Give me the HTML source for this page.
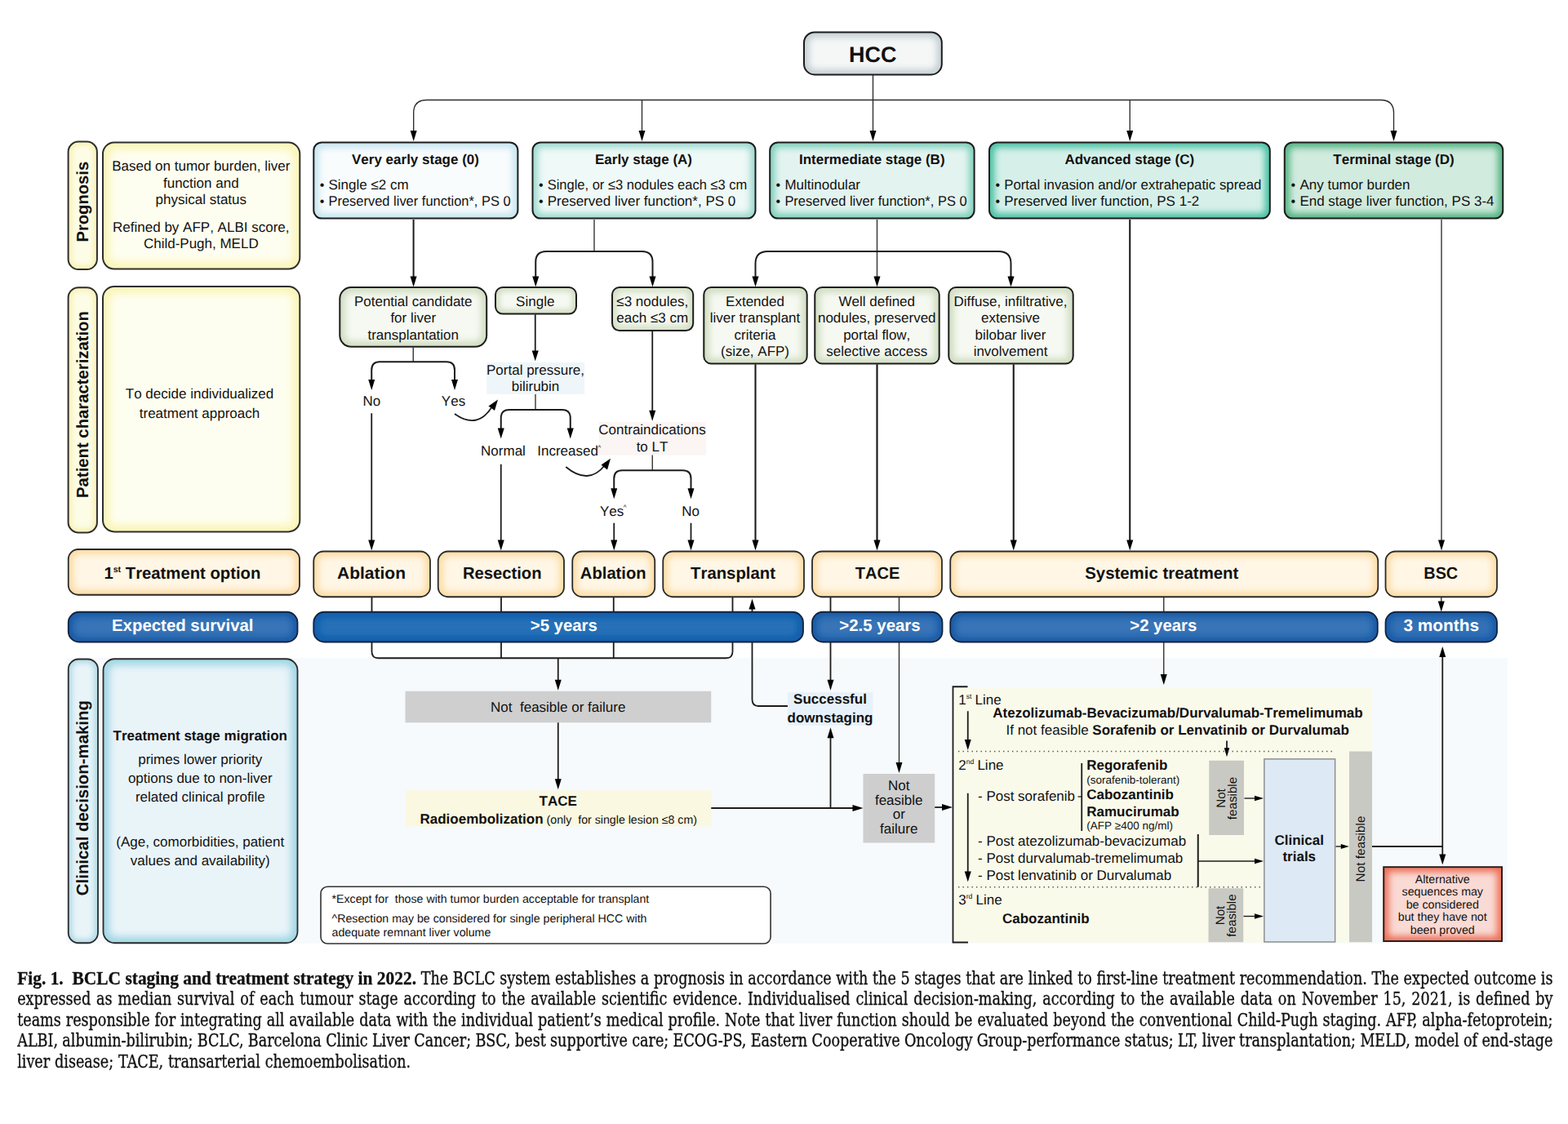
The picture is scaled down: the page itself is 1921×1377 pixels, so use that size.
<!DOCTYPE html>
<html lang="en"><head><meta charset="utf-8"><title>BCLC staging and treatment strategy in 2022</title>
<style>
html,body{margin:0;padding:0;background:#fff}
body{width:1921px;height:1377px;position:relative;overflow:hidden;font-family:"Liberation Sans",sans-serif}
svg{position:absolute;left:0;top:0}
svg text{font-family:"Liberation Sans",sans-serif;font-kerning:none;text-rendering:geometricPrecision}
.cl{position:absolute;left:21.2px;height:25px;line-height:25px;font-family:"DejaVu Serif Condensed","DejaVu Serif","Liberation Serif",serif;font-size:19.55px;color:#111;-webkit-text-stroke:0.3px #111;white-space:nowrap;transform-origin:0 20px;transform:scaleY(1.1)}
.cl b{font-family:"Liberation Serif","DejaVu Serif Condensed",serif;font-size:21.4px;font-weight:700}
</style></head><body>
<svg width="1921" height="1377" viewBox="0 0 1921 1377">
<defs><filter id="bl3_0" x="-20%" y="-20%" width="140%" height="140%" filterUnits="objectBoundingBox"><feGaussianBlur stdDeviation="3"/></filter><filter id="bl5_5" x="-20%" y="-20%" width="140%" height="140%" filterUnits="objectBoundingBox"><feGaussianBlur stdDeviation="5.5"/></filter><filter id="bl4_2" x="-20%" y="-20%" width="140%" height="140%" filterUnits="objectBoundingBox"><feGaussianBlur stdDeviation="4.2"/></filter><filter id="bl4_5" x="-20%" y="-20%" width="140%" height="140%" filterUnits="objectBoundingBox"><feGaussianBlur stdDeviation="4.5"/></filter><filter id="bl3_5" x="-20%" y="-20%" width="140%" height="140%" filterUnits="objectBoundingBox"><feGaussianBlur stdDeviation="3.5"/></filter><filter id="bl4_0" x="-20%" y="-20%" width="140%" height="140%" filterUnits="objectBoundingBox"><feGaussianBlur stdDeviation="4"/></filter><filter id="bl5_0" x="-20%" y="-20%" width="140%" height="140%" filterUnits="objectBoundingBox"><feGaussianBlur stdDeviation="5"/></filter><clipPath id="c1"><rect x="83.60" y="173.60" width="35.30" height="156.40" rx="12.50"/></clipPath><clipPath id="c2"><rect x="126.00" y="174.50" width="241.30" height="155.10" rx="14.00"/></clipPath><clipPath id="c3"><rect x="83.60" y="352.20" width="35.30" height="300.20" rx="12.50"/></clipPath><clipPath id="c4"><rect x="126.00" y="351.00" width="241.30" height="300.40" rx="14.00"/></clipPath><clipPath id="c5"><rect x="384.30" y="174.40" width="250.10" height="93.20" rx="10.00"/></clipPath><clipPath id="c6"><rect x="652.50" y="174.40" width="273.00" height="93.20" rx="10.00"/></clipPath><clipPath id="c7"><rect x="943.20" y="174.40" width="250.40" height="93.20" rx="10.00"/></clipPath><clipPath id="c8"><rect x="1212.00" y="174.40" width="343.80" height="93.20" rx="10.00"/></clipPath><clipPath id="c9"><rect x="1573.75" y="174.40" width="267.50" height="93.20" rx="10.00"/></clipPath><clipPath id="c10"><rect x="985.00" y="39.50" width="168.80" height="51.90" rx="13.00"/></clipPath><clipPath id="c11"><rect x="416.30" y="352.00" width="179.90" height="72.80" rx="14.00"/></clipPath><clipPath id="c12"><rect x="607.00" y="352.00" width="99.00" height="32.60" rx="9.00"/></clipPath><clipPath id="c13"><rect x="750.00" y="352.00" width="99.20" height="53.10" rx="9.00"/></clipPath><clipPath id="c14"><rect x="862.30" y="352.00" width="126.40" height="93.50" rx="9.00"/></clipPath><clipPath id="c15"><rect x="998.30" y="352.00" width="152.40" height="93.50" rx="9.00"/></clipPath><clipPath id="c16"><rect x="1162.30" y="352.00" width="152.40" height="93.50" rx="9.00"/></clipPath><clipPath id="c17"><rect x="83.75" y="673.00" width="283.25" height="55.75" rx="12.10"/></clipPath><clipPath id="c18"><rect x="384.25" y="675.50" width="142.75" height="55.75" rx="12.10"/></clipPath><clipPath id="c19"><rect x="536.75" y="675.50" width="154.25" height="55.75" rx="12.10"/></clipPath><clipPath id="c20"><rect x="701.25" y="675.50" width="101.00" height="55.75" rx="12.10"/></clipPath><clipPath id="c21"><rect x="812.25" y="675.50" width="172.75" height="55.75" rx="12.10"/></clipPath><clipPath id="c22"><rect x="995.00" y="675.50" width="159.00" height="55.75" rx="12.10"/></clipPath><clipPath id="c23"><rect x="1164.25" y="675.50" width="524.00" height="55.75" rx="12.10"/></clipPath><clipPath id="c24"><rect x="1697.50" y="675.50" width="136.50" height="55.75" rx="12.10"/></clipPath><clipPath id="c25"><rect x="83.75" y="749.75" width="280.75" height="36.75" rx="13.10"/></clipPath><clipPath id="c26"><rect x="384.25" y="749.75" width="599.75" height="36.75" rx="13.10"/></clipPath><clipPath id="c27"><rect x="995.00" y="749.75" width="159.50" height="36.75" rx="13.10"/></clipPath><clipPath id="c28"><rect x="1164.25" y="749.75" width="523.50" height="36.75" rx="13.10"/></clipPath><clipPath id="c29"><rect x="1697.50" y="749.75" width="136.50" height="36.75" rx="13.10"/></clipPath><clipPath id="c30"><rect x="83.75" y="807.50" width="36.25" height="347.75" rx="12.60"/></clipPath><clipPath id="c31"><rect x="126.50" y="807.25" width="238.00" height="348.00" rx="14.10"/></clipPath><clipPath id="c32"><rect x="1695.20" y="1062.20" width="144.80" height="90.80" rx="0.00"/></clipPath></defs>
<g id="bg"><rect x="81.00" y="805.75" width="1765.50" height="350.00" fill="#f6fafc"/><rect x="1168.00" y="841.75" width="513.00" height="312.75" fill="#fafaeb"/><rect x="596.25" y="443.75" width="120.00" height="39.25" fill="#eff6fa"/><rect x="733.75" y="517.00" width="131.25" height="40.50" fill="#fbf5f3"/><rect x="965.00" y="848.00" width="104.50" height="40.75" fill="#e7f1fa"/><rect x="496.50" y="846.75" width="374.75" height="38.50" fill="#cfcfcf"/><rect x="497.00" y="968.25" width="374.25" height="44.25" fill="#faf8e1"/><rect x="1057.50" y="948.00" width="87.75" height="84.50" fill="#cecece"/><rect x="1481.25" y="931.75" width="42.75" height="91.25" fill="#c9c9c3"/><rect x="1480.50" y="1088.25" width="42.75" height="66.00" fill="#c9c9c3"/><rect x="1653.00" y="920.50" width="28.00" height="233.75" fill="#c9c9c3"/></g>
<g id="lines"><path d="M1069.50 92.00V162.00" fill="none" stroke="#2c2c2c" stroke-width="1.35" /><polygon points="1069.50,173.00 1065.50,160.00 1073.50,160.00" fill="#000"/><path d="M506.70 162.00V138.50Q506.70 122.50 522.70 122.50H1691.50Q1707.50 122.50 1707.50 138.50V162.00" fill="none" stroke="#2c2c2c" stroke-width="1.35" /><polygon points="506.70,173.00 502.70,160.00 510.70,160.00" fill="#000"/><polygon points="1707.50,173.00 1703.50,160.00 1711.50,160.00" fill="#000"/><path d="M786.50 122.50V162.00" fill="none" stroke="#2c2c2c" stroke-width="1.35" /><polygon points="786.50,173.00 782.50,160.00 790.50,160.00" fill="#000"/><path d="M1384.25 122.50V162.00" fill="none" stroke="#2c2c2c" stroke-width="1.35" /><polygon points="1384.25,173.00 1380.25,160.00 1388.25,160.00" fill="#000"/><path d="M506.60 269.00V340.50" fill="none" stroke="#1c1c1c" stroke-width="2.0" /><polygon points="506.60,351.50 502.60,338.50 510.60,338.50" fill="#000"/><path d="M728.00 269.00V308.00" fill="none" stroke="#2c2c2c" stroke-width="1.35" /><path d="M656.25 340.50V321.00Q656.25 308.00 669.25 308.00H786.50Q799.50 308.00 799.50 321.00V340.50" fill="none" stroke="#1c1c1c" stroke-width="2.0" /><polygon points="656.25,351.50 652.25,338.50 660.25,338.50" fill="#000"/><polygon points="799.50,351.50 795.50,338.50 803.50,338.50" fill="#000"/><path d="M1074.50 269.00V340.50" fill="none" stroke="#2c2c2c" stroke-width="1.35" /><polygon points="1074.50,351.50 1070.50,338.50 1078.50,338.50" fill="#000"/><path d="M925.50 340.50V323.00Q925.50 308.00 940.50 308.00H1223.50Q1238.50 308.00 1238.50 323.00V340.50" fill="none" stroke="#1c1c1c" stroke-width="2.0" /><polygon points="925.50,351.50 921.50,338.50 929.50,338.50" fill="#000"/><polygon points="1238.50,351.50 1234.50,338.50 1242.50,338.50" fill="#000"/><path d="M1384.25 269.00V663.50" fill="none" stroke="#1c1c1c" stroke-width="2.1" /><polygon points="1384.25,674.50 1380.25,661.50 1388.25,661.50" fill="#000"/><path d="M1766.00 269.00V663.50" fill="none" stroke="#2c2c2c" stroke-width="1.35" /><polygon points="1766.00,674.50 1762.00,661.50 1770.00,661.50" fill="#000"/><path d="M506.25 425.50V443.25" fill="none" stroke="#2c2c2c" stroke-width="1.35" /><path d="M455.25 467.00V453.25Q455.25 443.25 465.25 443.25H547.00Q557.00 443.25 557.00 453.25V467.00" fill="none" stroke="#1c1c1c" stroke-width="2.0" /><polygon points="455.25,478.00 451.25,465.00 459.25,465.00" fill="#000"/><polygon points="557.00,478.00 553.00,465.00 561.00,465.00" fill="#000"/><path d="M455.25 506.25V663.50" fill="none" stroke="#1c1c1c" stroke-width="1.8" /><polygon points="455.25,674.50 451.25,661.50 459.25,661.50" fill="#000"/><path d="M655.75 385.30V431.50" fill="none" stroke="#1c1c1c" stroke-width="1.8" /><polygon points="655.75,442.50 651.75,429.50 659.75,429.50" fill="#000"/><path d="M656.00 483.00V502.00" fill="none" stroke="#2c2c2c" stroke-width="1.35" /><path d="M613.75 526.50V512.00Q613.75 502.00 623.75 502.00H688.75Q698.75 502.00 698.75 512.00V526.50" fill="none" stroke="#1c1c1c" stroke-width="2.0" /><polygon points="613.75,537.50 609.75,524.50 617.75,524.50" fill="#000"/><polygon points="698.75,537.50 694.75,524.50 702.75,524.50" fill="#000"/><path d="M613.75 568.75V663.50" fill="none" stroke="#1c1c1c" stroke-width="1.8" /><polygon points="613.75,674.50 609.75,661.50 617.75,661.50" fill="#000"/><path d="M799.25 405.80V504.75" fill="none" stroke="#1c1c1c" stroke-width="1.8" /><polygon points="799.25,515.75 795.25,502.75 803.25,502.75" fill="#000"/><path d="M799.25 557.50V576.25" fill="none" stroke="#2c2c2c" stroke-width="1.35" /><path d="M752.25 600.25V586.25Q752.25 576.25 762.25 576.25H836.50Q846.50 576.25 846.50 586.25V600.25" fill="none" stroke="#1c1c1c" stroke-width="2.0" /><polygon points="752.25,611.25 748.25,598.25 756.25,598.25" fill="#000"/><polygon points="846.50,611.25 842.50,598.25 850.50,598.25" fill="#000"/><path d="M752.25 640.75V663.50" fill="none" stroke="#1c1c1c" stroke-width="1.8" /><polygon points="752.25,674.50 748.25,661.50 756.25,661.50" fill="#000"/><path d="M846.50 640.75V663.50" fill="none" stroke="#1c1c1c" stroke-width="1.8" /><polygon points="846.50,674.50 842.50,661.50 850.50,661.50" fill="#000"/><path d="M925.50 446.30V663.50" fill="none" stroke="#1c1c1c" stroke-width="2.1" /><polygon points="925.50,674.50 921.50,661.50 929.50,661.50" fill="#000"/><path d="M1074.50 446.30V663.50" fill="none" stroke="#1c1c1c" stroke-width="2.2" /><polygon points="1074.50,674.50 1070.50,661.50 1078.50,661.50" fill="#000"/><path d="M1241.75 446.30V663.50" fill="none" stroke="#1c1c1c" stroke-width="2.1" /><polygon points="1241.75,674.50 1237.75,661.50 1245.75,661.50" fill="#000"/><path d="M557 507Q585 527 603 498" fill="none" stroke="#1c1c1c" stroke-width="1.8" /><polygon points="610,489.5 598.5,497.5 606,503" fill="#000"/><path d="M693.25 572Q721 595 741 570" fill="none" stroke="#1c1c1c" stroke-width="1.8" /><polygon points="748,561.75 736.5,569.5 744,575.5" fill="#000"/><path d="M455.5 731.75V798.25Q455.5 806.25 463.5 806.25H889.5Q897.5 806.25 897.5 798.25V731.75" fill="none" stroke="#1c1c1c" stroke-width="1.8" /><path d="M614.00 731.75V806.25" fill="none" stroke="#1c1c1c" stroke-width="1.8" /><path d="M751.75 731.75V806.25" fill="none" stroke="#1c1c1c" stroke-width="1.8" /><path d="M683.75 806.25V834.80" fill="none" stroke="#1c1c1c" stroke-width="1.8" /><polygon points="683.75,845.80 679.75,832.80 687.75,832.80" fill="#000"/><path d="M683.75 885.25V956.30" fill="none" stroke="#1c1c1c" stroke-width="1.8" /><polygon points="683.75,967.30 679.75,954.30 687.75,954.30" fill="#000"/><path d="M871.25 990.00H1046.50" fill="none" stroke="#1c1c1c" stroke-width="1.8" /><polygon points="1057.50,990.00 1044.50,986.00 1044.50,994.00" fill="#000"/><path d="M1017.50 990.00V902.25" fill="none" stroke="#1c1c1c" stroke-width="1.8" /><polygon points="1017.50,891.25 1013.50,904.25 1021.50,904.25" fill="#000"/><path d="M965 865H929.5Q921.5 865 921.5 857V744" fill="none" stroke="#1c1c1c" stroke-width="1.8" /><polygon points="921.50,733.50 917.50,746.50 925.50,746.50" fill="#000"/><path d="M1017.50 731.75V834.80" fill="none" stroke="#1c1c1c" stroke-width="1.8" /><polygon points="1017.50,845.80 1013.50,832.80 1021.50,832.80" fill="#000"/><path d="M1101.50 731.75V936.00" fill="none" stroke="#2c2c2c" stroke-width="1.35" /><polygon points="1101.50,947.00 1097.50,934.00 1105.50,934.00" fill="#000"/><path d="M1145.25 989.00H1156.00" fill="none" stroke="#1c1c1c" stroke-width="1.8" /><polygon points="1167.00,989.00 1154.00,985.00 1154.00,993.00" fill="#000"/><path d="M1425.75 731.75V828.00" fill="none" stroke="#2c2c2c" stroke-width="1.35" /><polygon points="1425.75,839.00 1421.75,826.00 1429.75,826.00" fill="#000"/><path d="M1765.75 731.75V738.50" fill="none" stroke="#2c2c2c" stroke-width="1.35" /><polygon points="1765.75,749.50 1761.75,736.50 1769.75,736.50" fill="#000"/><path d="M1767.25 802.00V1049.00" fill="none" stroke="#1c1c1c" stroke-width="1.8" /><polygon points="1767.25,792.00 1763.25,805.00 1771.25,805.00" fill="#000"/><polygon points="1767.25,1059.50 1763.25,1046.50 1771.25,1046.50" fill="#000"/><path d="M1681.00 1037.00H1767.25" fill="none" stroke="#1c1c1c" stroke-width="1.8" /><path d="M1636.25 1037.00H1644.75" fill="none" stroke="#1c1c1c" stroke-width="1.4" /><polygon points="1652.75,1037.00 1642.75,1034.00 1642.75,1040.00" fill="#000"/><path d="M1524.50 978.00H1539.00" fill="none" stroke="#1c1c1c" stroke-width="1.4" /><polygon points="1548.00,978.00 1537.00,974.75 1537.00,981.25" fill="#000"/><path d="M1523.50 1122.50H1539.00" fill="none" stroke="#1c1c1c" stroke-width="1.4" /><polygon points="1548.00,1122.50 1537.00,1119.25 1537.00,1125.75" fill="#000"/><path d="M1467.75 1022.00V1086.75" fill="none" stroke="#1c1c1c" stroke-width="2.0" /><path d="M1467.75 1055.00H1539.00" fill="none" stroke="#1c1c1c" stroke-width="1.4" /><polygon points="1548.00,1055.00 1537.00,1051.75 1537.00,1058.25" fill="#000"/><path d="M1325.25 935.00V1018.00" fill="none" stroke="#1c1c1c" stroke-width="1.8" /><path d="M1320.50 976.00H1325.25" fill="none" stroke="#1c1c1c" stroke-width="1.3" /><path d="M1185.5 841.25H1167.5V1154.5H1186" fill="none" stroke="#1c1c1c" stroke-width="1.8" /><path d="M1185.75 871.25V908.00" fill="none" stroke="#1c1c1c" stroke-width="1.8" /><polygon points="1185.75,919.00 1181.75,906.00 1189.75,906.00" fill="#000"/><path d="M1185.75 971.75V1069.50" fill="none" stroke="#1c1c1c" stroke-width="1.8" /><polygon points="1185.75,1080.50 1181.75,1067.50 1189.75,1067.50" fill="#000"/><path d="M1503.00 907.50V918.30" fill="none" stroke="#1c1c1c" stroke-width="1.8" /><polygon points="1503.00,927.30 1499.75,916.30 1506.25,916.30" fill="#000"/><path d="M1174 920.5H1632.5" fill="none" stroke="#555" stroke-width="1.4" stroke-dasharray="1.4 4.1"/><path d="M1174 1086.75H1548" fill="none" stroke="#555" stroke-width="1.4" stroke-dasharray="1.4 4.1"/></g>
<g id="boxes"><g clip-path="url(#c1)"><rect x="83.60" y="173.60" width="35.30" height="156.40" rx="12.50" fill="#fdfce6"/><rect x="83.60" y="173.60" width="35.30" height="156.40" rx="12.50" fill="none" stroke="#f7f1b4" stroke-width="9.00" filter="url(#bl3_0)"/></g><rect x="83.60" y="173.60" width="35.30" height="156.40" rx="12.50" fill="none" stroke="#2e2e2e" stroke-width="2"/><g clip-path="url(#c2)"><rect x="126.00" y="174.50" width="241.30" height="155.10" rx="14.00" fill="#fefef0"/><rect x="126.00" y="174.50" width="241.30" height="155.10" rx="14.00" fill="none" stroke="#faf4b4" stroke-width="16.00" filter="url(#bl5_5)"/></g><rect x="126.00" y="174.50" width="241.30" height="155.10" rx="14.00" fill="none" stroke="#2e2e2e" stroke-width="2"/><g clip-path="url(#c3)"><rect x="83.60" y="352.20" width="35.30" height="300.20" rx="12.50" fill="#fdfce6"/><rect x="83.60" y="352.20" width="35.30" height="300.20" rx="12.50" fill="none" stroke="#f7f1b4" stroke-width="9.00" filter="url(#bl3_0)"/></g><rect x="83.60" y="352.20" width="35.30" height="300.20" rx="12.50" fill="none" stroke="#2e2e2e" stroke-width="2"/><g clip-path="url(#c4)"><rect x="126.00" y="351.00" width="241.30" height="300.40" rx="14.00" fill="#fefef0"/><rect x="126.00" y="351.00" width="241.30" height="300.40" rx="14.00" fill="none" stroke="#faf4b4" stroke-width="16.00" filter="url(#bl5_5)"/></g><rect x="126.00" y="351.00" width="241.30" height="300.40" rx="14.00" fill="none" stroke="#2e2e2e" stroke-width="2"/><g clip-path="url(#c5)"><rect x="384.30" y="174.40" width="250.10" height="93.20" rx="10.00" fill="#f8fcfd"/><rect x="384.30" y="174.40" width="250.10" height="93.20" rx="10.00" fill="none" stroke="#c3e3ee" stroke-width="12.00" filter="url(#bl4_2)"/></g><rect x="384.30" y="174.40" width="250.10" height="93.20" rx="10.00" fill="none" stroke="#1c1c1c" stroke-width="2"/><g clip-path="url(#c6)"><rect x="652.50" y="174.40" width="273.00" height="93.20" rx="10.00" fill="#eff9f7"/><rect x="652.50" y="174.40" width="273.00" height="93.20" rx="10.00" fill="none" stroke="#98d7cd" stroke-width="12.00" filter="url(#bl4_2)"/></g><rect x="652.50" y="174.40" width="273.00" height="93.20" rx="10.00" fill="none" stroke="#1c1c1c" stroke-width="2"/><g clip-path="url(#c7)"><rect x="943.20" y="174.40" width="250.40" height="93.20" rx="10.00" fill="#e3f4f0"/><rect x="943.20" y="174.40" width="250.40" height="93.20" rx="10.00" fill="none" stroke="#78cdb8" stroke-width="12.00" filter="url(#bl4_2)"/></g><rect x="943.20" y="174.40" width="250.40" height="93.20" rx="10.00" fill="none" stroke="#1c1c1c" stroke-width="2"/><g clip-path="url(#c8)"><rect x="1212.00" y="174.40" width="343.80" height="93.20" rx="10.00" fill="#d6f0e9"/><rect x="1212.00" y="174.40" width="343.80" height="93.20" rx="10.00" fill="none" stroke="#3fbd9f" stroke-width="12.00" filter="url(#bl4_2)"/></g><rect x="1212.00" y="174.40" width="343.80" height="93.20" rx="10.00" fill="none" stroke="#1c1c1c" stroke-width="2"/><g clip-path="url(#c9)"><rect x="1573.75" y="174.40" width="267.50" height="93.20" rx="10.00" fill="#d1ebde"/><rect x="1573.75" y="174.40" width="267.50" height="93.20" rx="10.00" fill="none" stroke="#4cb07e" stroke-width="12.00" filter="url(#bl4_2)"/></g><rect x="1573.75" y="174.40" width="267.50" height="93.20" rx="10.00" fill="none" stroke="#1c1c1c" stroke-width="2"/><g clip-path="url(#c10)"><rect x="985.00" y="39.50" width="168.80" height="51.90" rx="13.00" fill="#f5f7f7"/><rect x="985.00" y="39.50" width="168.80" height="51.90" rx="13.00" fill="none" stroke="#c2cdd2" stroke-width="12.00" filter="url(#bl4_2)"/></g><rect x="985.00" y="39.50" width="168.80" height="51.90" rx="13.00" fill="none" stroke="#1c1c1c" stroke-width="2"/><g clip-path="url(#c11)"><rect x="416.30" y="352.00" width="179.90" height="72.80" rx="14.00" fill="#f6f9f2"/><rect x="416.30" y="352.00" width="179.90" height="72.80" rx="14.00" fill="none" stroke="#cfdcc0" stroke-width="13.00" filter="url(#bl4_5)"/></g><rect x="416.30" y="352.00" width="179.90" height="72.80" rx="14.00" fill="none" stroke="#1c1c1c" stroke-width="2"/><g clip-path="url(#c12)"><rect x="607.00" y="352.00" width="99.00" height="32.60" rx="9.00" fill="#f6f9f2"/><rect x="607.00" y="352.00" width="99.00" height="32.60" rx="9.00" fill="none" stroke="#cfdcc0" stroke-width="10.00" filter="url(#bl3_5)"/></g><rect x="607.00" y="352.00" width="99.00" height="32.60" rx="9.00" fill="none" stroke="#1c1c1c" stroke-width="2"/><g clip-path="url(#c13)"><rect x="750.00" y="352.00" width="99.20" height="53.10" rx="9.00" fill="#f6f9f2"/><rect x="750.00" y="352.00" width="99.20" height="53.10" rx="9.00" fill="none" stroke="#cfdcc0" stroke-width="11.00" filter="url(#bl4_0)"/></g><rect x="750.00" y="352.00" width="99.20" height="53.10" rx="9.00" fill="none" stroke="#1c1c1c" stroke-width="2"/><g clip-path="url(#c14)"><rect x="862.30" y="352.00" width="126.40" height="93.50" rx="9.00" fill="#f6f9f2"/><rect x="862.30" y="352.00" width="126.40" height="93.50" rx="9.00" fill="none" stroke="#cfdcc0" stroke-width="13.00" filter="url(#bl4_5)"/></g><rect x="862.30" y="352.00" width="126.40" height="93.50" rx="9.00" fill="none" stroke="#1c1c1c" stroke-width="2"/><g clip-path="url(#c15)"><rect x="998.30" y="352.00" width="152.40" height="93.50" rx="9.00" fill="#f6f9f2"/><rect x="998.30" y="352.00" width="152.40" height="93.50" rx="9.00" fill="none" stroke="#cfdcc0" stroke-width="13.00" filter="url(#bl4_5)"/></g><rect x="998.30" y="352.00" width="152.40" height="93.50" rx="9.00" fill="none" stroke="#1c1c1c" stroke-width="2"/><g clip-path="url(#c16)"><rect x="1162.30" y="352.00" width="152.40" height="93.50" rx="9.00" fill="#f6f9f2"/><rect x="1162.30" y="352.00" width="152.40" height="93.50" rx="9.00" fill="none" stroke="#cfdcc0" stroke-width="13.00" filter="url(#bl4_5)"/></g><rect x="1162.30" y="352.00" width="152.40" height="93.50" rx="9.00" fill="none" stroke="#1c1c1c" stroke-width="2"/><g clip-path="url(#c17)"><rect x="83.75" y="673.00" width="283.25" height="55.75" rx="12.10" fill="#fff6e5"/><rect x="83.75" y="673.00" width="283.25" height="55.75" rx="12.10" fill="none" stroke="#fcd99e" stroke-width="11.00" filter="url(#bl4_0)"/></g><rect x="83.75" y="673.00" width="283.25" height="55.75" rx="12.10" fill="none" stroke="#2a2a2a" stroke-width="1.8"/><g clip-path="url(#c18)"><rect x="384.25" y="675.50" width="142.75" height="55.75" rx="12.10" fill="#fff6e5"/><rect x="384.25" y="675.50" width="142.75" height="55.75" rx="12.10" fill="none" stroke="#fcd99e" stroke-width="11.00" filter="url(#bl4_0)"/></g><rect x="384.25" y="675.50" width="142.75" height="55.75" rx="12.10" fill="none" stroke="#2a2a2a" stroke-width="1.8"/><g clip-path="url(#c19)"><rect x="536.75" y="675.50" width="154.25" height="55.75" rx="12.10" fill="#fff6e5"/><rect x="536.75" y="675.50" width="154.25" height="55.75" rx="12.10" fill="none" stroke="#fcd99e" stroke-width="11.00" filter="url(#bl4_0)"/></g><rect x="536.75" y="675.50" width="154.25" height="55.75" rx="12.10" fill="none" stroke="#2a2a2a" stroke-width="1.8"/><g clip-path="url(#c20)"><rect x="701.25" y="675.50" width="101.00" height="55.75" rx="12.10" fill="#fff6e5"/><rect x="701.25" y="675.50" width="101.00" height="55.75" rx="12.10" fill="none" stroke="#fcd99e" stroke-width="11.00" filter="url(#bl4_0)"/></g><rect x="701.25" y="675.50" width="101.00" height="55.75" rx="12.10" fill="none" stroke="#2a2a2a" stroke-width="1.8"/><g clip-path="url(#c21)"><rect x="812.25" y="675.50" width="172.75" height="55.75" rx="12.10" fill="#fff6e5"/><rect x="812.25" y="675.50" width="172.75" height="55.75" rx="12.10" fill="none" stroke="#fcd99e" stroke-width="11.00" filter="url(#bl4_0)"/></g><rect x="812.25" y="675.50" width="172.75" height="55.75" rx="12.10" fill="none" stroke="#2a2a2a" stroke-width="1.8"/><g clip-path="url(#c22)"><rect x="995.00" y="675.50" width="159.00" height="55.75" rx="12.10" fill="#fff6e5"/><rect x="995.00" y="675.50" width="159.00" height="55.75" rx="12.10" fill="none" stroke="#fcd99e" stroke-width="11.00" filter="url(#bl4_0)"/></g><rect x="995.00" y="675.50" width="159.00" height="55.75" rx="12.10" fill="none" stroke="#2a2a2a" stroke-width="1.8"/><g clip-path="url(#c23)"><rect x="1164.25" y="675.50" width="524.00" height="55.75" rx="12.10" fill="#fff6e5"/><rect x="1164.25" y="675.50" width="524.00" height="55.75" rx="12.10" fill="none" stroke="#fcd99e" stroke-width="11.00" filter="url(#bl4_0)"/></g><rect x="1164.25" y="675.50" width="524.00" height="55.75" rx="12.10" fill="none" stroke="#2a2a2a" stroke-width="1.8"/><g clip-path="url(#c24)"><rect x="1697.50" y="675.50" width="136.50" height="55.75" rx="12.10" fill="#fff6e5"/><rect x="1697.50" y="675.50" width="136.50" height="55.75" rx="12.10" fill="none" stroke="#fcd99e" stroke-width="11.00" filter="url(#bl4_0)"/></g><rect x="1697.50" y="675.50" width="136.50" height="55.75" rx="12.10" fill="none" stroke="#2a2a2a" stroke-width="1.8"/><g clip-path="url(#c25)"><rect x="83.75" y="749.75" width="280.75" height="36.75" rx="13.10" fill="#3874b7"/><rect x="83.75" y="749.75" width="280.75" height="36.75" rx="13.10" fill="none" stroke="#1656a3" stroke-width="11.00" filter="url(#bl4_0)"/></g><rect x="83.75" y="749.75" width="280.75" height="36.75" rx="13.10" fill="none" stroke="#10233f" stroke-width="1.8"/><g clip-path="url(#c26)"><rect x="384.25" y="749.75" width="599.75" height="36.75" rx="13.10" fill="#2670b7"/><rect x="384.25" y="749.75" width="599.75" height="36.75" rx="13.10" fill="none" stroke="#0b59a9" stroke-width="11.00" filter="url(#bl4_0)"/></g><rect x="384.25" y="749.75" width="599.75" height="36.75" rx="13.10" fill="none" stroke="#10233f" stroke-width="1.8"/><g clip-path="url(#c27)"><rect x="995.00" y="749.75" width="159.50" height="36.75" rx="13.10" fill="#3874b7"/><rect x="995.00" y="749.75" width="159.50" height="36.75" rx="13.10" fill="none" stroke="#1656a3" stroke-width="11.00" filter="url(#bl4_0)"/></g><rect x="995.00" y="749.75" width="159.50" height="36.75" rx="13.10" fill="none" stroke="#10233f" stroke-width="1.8"/><g clip-path="url(#c28)"><rect x="1164.25" y="749.75" width="523.50" height="36.75" rx="13.10" fill="#3874b7"/><rect x="1164.25" y="749.75" width="523.50" height="36.75" rx="13.10" fill="none" stroke="#1656a3" stroke-width="11.00" filter="url(#bl4_0)"/></g><rect x="1164.25" y="749.75" width="523.50" height="36.75" rx="13.10" fill="none" stroke="#10233f" stroke-width="1.8"/><g clip-path="url(#c29)"><rect x="1697.50" y="749.75" width="136.50" height="36.75" rx="13.10" fill="#3371b6"/><rect x="1697.50" y="749.75" width="136.50" height="36.75" rx="13.10" fill="none" stroke="#1356a5" stroke-width="11.00" filter="url(#bl4_0)"/></g><rect x="1697.50" y="749.75" width="136.50" height="36.75" rx="13.10" fill="none" stroke="#10233f" stroke-width="1.8"/><g clip-path="url(#c30)"><rect x="83.75" y="807.50" width="36.25" height="347.75" rx="12.60" fill="#e8f4f8"/><rect x="83.75" y="807.50" width="36.25" height="347.75" rx="12.60" fill="none" stroke="#aed9e6" stroke-width="9.00" filter="url(#bl3_0)"/></g><rect x="83.75" y="807.50" width="36.25" height="347.75" rx="12.60" fill="none" stroke="#2a2a2a" stroke-width="1.8"/><g clip-path="url(#c31)"><rect x="126.50" y="807.25" width="238.00" height="348.00" rx="14.10" fill="#e9f4f9"/><rect x="126.50" y="807.25" width="238.00" height="348.00" rx="14.10" fill="none" stroke="#9fd6e4" stroke-width="15.00" filter="url(#bl5_0)"/></g><rect x="126.50" y="807.25" width="238.00" height="348.00" rx="14.10" fill="none" stroke="#2a2a2a" stroke-width="1.8"/><rect x="393.00" y="1086.20" width="551.10" height="69.80" rx="8.20" fill="#ffffff" stroke="#333" stroke-width="1.6"/><rect x="1548.85" y="929.85" width="86.80" height="224.10" rx="0.00" fill="#dde9f4" stroke="#8f8f8f" stroke-width="1.5"/><g clip-path="url(#c32)"><rect x="1695.20" y="1062.20" width="144.80" height="90.80" rx="0.00" fill="#f9dad4"/><rect x="1695.20" y="1062.20" width="144.80" height="90.80" rx="0.00" fill="none" stroke="#ec6d54" stroke-width="12.00" filter="url(#bl4_0)"/></g><rect x="1695.20" y="1062.20" width="144.80" height="90.80" rx="0.00" fill="none" stroke="#2e1c1a" stroke-width="2"/></g>
<g id="over"></g>
<g id="labels"><text x="1069.30" y="76.20" font-size="27" text-anchor="middle" font-weight="700" fill="#111" >HCC</text><text transform="translate(107.50 247.20) rotate(-90)" font-size="20.2" text-anchor="middle" font-weight="700" fill="#111">Prognosis</text><text transform="translate(107.50 495.50) rotate(-90)" font-size="20.3" text-anchor="middle" font-weight="700" fill="#111">Patient characterization</text><text transform="translate(108.20 977.60) rotate(-90)" font-size="20.4" text-anchor="middle" font-weight="700" fill="#111">Clinical decision-making</text><text x="246.30" y="209.20" font-size="17" text-anchor="middle" fill="#111" >Based on tumor burden, liver</text><text x="246.30" y="229.50" font-size="17" text-anchor="middle" fill="#111" >function and</text><text x="246.30" y="249.80" font-size="17" text-anchor="middle" fill="#111" >physical status</text><text x="246.30" y="283.70" font-size="17" text-anchor="middle" fill="#111" >Refined by AFP, ALBI score,</text><text x="246.30" y="304.20" font-size="17" text-anchor="middle" fill="#111" >Child-Pugh, MELD</text><text x="244.50" y="487.80" font-size="17" text-anchor="middle" fill="#111" >To decide individualized</text><text x="244.50" y="511.80" font-size="17" text-anchor="middle" fill="#111" >treatment approach</text><text x="509.00" y="200.95" font-size="17" text-anchor="middle" font-weight="700" fill="#111" >Very early stage (0)</text><text x="391.70" y="231.70" font-size="16" text-anchor="start" fill="#111" >•</text><text x="402.50" y="231.70" font-size="17" text-anchor="start" fill="#111" >Single ≤2 cm</text><text x="391.70" y="252.20" font-size="16" text-anchor="start" fill="#111" >•</text><text x="402.50" y="252.20" font-size="17" text-anchor="start" fill="#111"  textLength="223.20" lengthAdjust="spacingAndGlyphs">Preserved liver function*, PS 0</text><text x="788.50" y="200.95" font-size="17" text-anchor="middle" font-weight="700" fill="#111" >Early stage (A)</text><text x="659.90" y="231.70" font-size="16" text-anchor="start" fill="#111" >•</text><text x="670.70" y="231.70" font-size="17" text-anchor="start" fill="#111"  textLength="244.50" lengthAdjust="spacingAndGlyphs">Single, or ≤3 nodules each ≤3 cm</text><text x="659.90" y="252.20" font-size="16" text-anchor="start" fill="#111" >•</text><text x="670.70" y="252.20" font-size="17" text-anchor="start" fill="#111" >Preserved liver function*, PS 0</text><text x="1068.30" y="200.95" font-size="17" text-anchor="middle" font-weight="700" fill="#111" >Intermediate stage (B)</text><text x="950.60" y="231.70" font-size="16" text-anchor="start" fill="#111" >•</text><text x="961.40" y="231.70" font-size="17" text-anchor="start" fill="#111" >Multinodular</text><text x="950.60" y="252.20" font-size="16" text-anchor="start" fill="#111" >•</text><text x="961.40" y="252.20" font-size="17" text-anchor="start" fill="#111"  textLength="223.20" lengthAdjust="spacingAndGlyphs">Preserved liver function*, PS 0</text><text x="1383.75" y="200.95" font-size="17" text-anchor="middle" font-weight="700" fill="#111" >Advanced stage (C)</text><text x="1219.40" y="231.70" font-size="16" text-anchor="start" fill="#111" >•</text><text x="1230.20" y="231.70" font-size="17" text-anchor="start" fill="#111"  textLength="315.20" lengthAdjust="spacingAndGlyphs">Portal invasion and/or extrahepatic spread</text><text x="1219.40" y="252.20" font-size="16" text-anchor="start" fill="#111" >•</text><text x="1230.20" y="252.20" font-size="17" text-anchor="start" fill="#111" >Preserved liver function, PS 1-2</text><text x="1707.50" y="200.95" font-size="17" text-anchor="middle" font-weight="700" fill="#111" >Terminal stage (D)</text><text x="1581.60" y="231.70" font-size="16" text-anchor="start" fill="#111" >•</text><text x="1592.40" y="231.70" font-size="17" text-anchor="start" fill="#111" >Any tumor burden</text><text x="1581.60" y="252.20" font-size="16" text-anchor="start" fill="#111" >•</text><text x="1592.40" y="252.20" font-size="17" text-anchor="start" fill="#111" >End stage liver function, PS 3-4</text><text x="506.25" y="374.80" font-size="17" text-anchor="middle" fill="#111" >Potential candidate</text><text x="506.25" y="395.15" font-size="17" text-anchor="middle" fill="#111" >for liver</text><text x="506.25" y="415.50" font-size="17" text-anchor="middle" fill="#111" >transplantation</text><text x="655.75" y="374.80" font-size="17" text-anchor="middle" fill="#111" >Single</text><text x="799.25" y="374.80" font-size="17" text-anchor="middle" fill="#111" >≤3 nodules,</text><text x="799.25" y="395.15" font-size="17" text-anchor="middle" fill="#111" >each ≤3 cm</text><text x="925.00" y="374.80" font-size="17" text-anchor="middle" fill="#111" >Extended</text><text x="925.00" y="395.15" font-size="17" text-anchor="middle" fill="#111" >liver transplant</text><text x="925.00" y="415.50" font-size="17" text-anchor="middle" fill="#111" >criteria</text><text x="925.00" y="435.85" font-size="17" text-anchor="middle" fill="#111" >(size, AFP)</text><text x="1074.25" y="374.80" font-size="17" text-anchor="middle" fill="#111" >Well defined</text><text x="1074.25" y="395.15" font-size="17" text-anchor="middle" fill="#111" >nodules, preserved</text><text x="1074.25" y="415.50" font-size="17" text-anchor="middle" fill="#111" >portal flow,</text><text x="1074.25" y="435.85" font-size="17" text-anchor="middle" fill="#111" >selective access</text><text x="1238.00" y="374.80" font-size="17" text-anchor="middle" fill="#111" >Diffuse, infiltrative,</text><text x="1238.00" y="395.15" font-size="17" text-anchor="middle" fill="#111" >extensive</text><text x="1238.00" y="415.50" font-size="17" text-anchor="middle" fill="#111" >bilobar liver</text><text x="1238.00" y="435.85" font-size="17" text-anchor="middle" fill="#111" >involvement</text><text x="656.00" y="458.80" font-size="17" text-anchor="middle" fill="#111" >Portal pressure,</text><text x="656.00" y="479.05" font-size="17" text-anchor="middle" fill="#111" >bilirubin</text><text x="799.00" y="532.30" font-size="17" text-anchor="middle" fill="#111" >Contraindications</text><text x="799.00" y="552.55" font-size="17" text-anchor="middle" fill="#111" >to LT</text><text x="455.25" y="496.80" font-size="17" text-anchor="middle" fill="#111" >No</text><text x="555.50" y="496.80" font-size="17" text-anchor="middle" fill="#111" >Yes</text><text x="616.50" y="558.30" font-size="17" text-anchor="middle" fill="#111" >Normal</text><text x="658.25" y="558.30" font-size="17" text-anchor="start" fill="#111" >Increased<tspan font-size="8" dy="-7.5" dx="-0.5">^</tspan></text><text x="735.00" y="631.55" font-size="17" text-anchor="start" fill="#111" >Yes<tspan font-size="8" dy="-7.5" dx="-0.5">^</tspan></text><text x="846.00" y="631.55" font-size="17" text-anchor="middle" fill="#111" >No</text><text x="127.50" y="708.90" font-size="20.3" text-anchor="start" font-weight="700" fill="#111" >1<tspan font-size="10.5" dy="-7.5">st</tspan><tspan dy="7.5"> Treatment option</tspan></text><text x="455.00" y="708.90" font-size="20.4" text-anchor="middle" font-weight="700" fill="#111"  textLength="84.00" lengthAdjust="spacingAndGlyphs">Ablation</text><text x="615.25" y="708.90" font-size="20.4" text-anchor="middle" font-weight="700" fill="#111"  textLength="96.60" lengthAdjust="spacingAndGlyphs">Resection</text><text x="751.25" y="708.90" font-size="20.4" text-anchor="middle" font-weight="700" fill="#111"  textLength="80.80" lengthAdjust="spacingAndGlyphs">Ablation</text><text x="898.00" y="708.90" font-size="20.4" text-anchor="middle" font-weight="700" fill="#111"  textLength="103.80" lengthAdjust="spacingAndGlyphs">Transplant</text><text x="1075.00" y="708.90" font-size="20.4" text-anchor="middle" font-weight="700" fill="#111"  textLength="54.60" lengthAdjust="spacingAndGlyphs">TACE</text><text x="1423.30" y="708.90" font-size="20.4" text-anchor="middle" font-weight="700" fill="#111"  textLength="188.20" lengthAdjust="spacingAndGlyphs">Systemic treatment</text><text x="1765.25" y="708.90" font-size="20.4" text-anchor="middle" font-weight="700" fill="#111"  textLength="41.80" lengthAdjust="spacingAndGlyphs">BSC</text><text x="223.75" y="773.20" font-size="20.4" text-anchor="middle" font-weight="700" fill="#fff"  textLength="173.50" lengthAdjust="spacingAndGlyphs">Expected survival</text><text x="690.75" y="773.20" font-size="20.4" text-anchor="middle" font-weight="700" fill="#fff"  textLength="82.00" lengthAdjust="spacingAndGlyphs">&gt;5 years</text><text x="1078.00" y="773.20" font-size="20.4" text-anchor="middle" font-weight="700" fill="#fff"  textLength="99.30" lengthAdjust="spacingAndGlyphs">&gt;2.5 years</text><text x="1425.25" y="773.20" font-size="20.4" text-anchor="middle" font-weight="700" fill="#fff"  textLength="82.00" lengthAdjust="spacingAndGlyphs">&gt;2 years</text><text x="1765.75" y="773.20" font-size="20.4" text-anchor="middle" font-weight="700" fill="#fff"  textLength="92.60" lengthAdjust="spacingAndGlyphs">3 months</text><text x="245.25" y="907.00" font-size="17" text-anchor="middle" font-weight="700" fill="#111" >Treatment stage migration</text><text x="245.25" y="936.25" font-size="17" text-anchor="middle" fill="#111" >primes lower priority</text><text x="245.25" y="959.35" font-size="17" text-anchor="middle" fill="#111" >options due to non-liver</text><text x="245.25" y="982.45" font-size="17" text-anchor="middle" fill="#111" >related clinical profile</text><text x="245.25" y="1037.00" font-size="17" text-anchor="middle" fill="#111" >(Age, comorbidities, patient</text><text x="245.25" y="1060.00" font-size="17" text-anchor="middle" fill="#111" >values and availability)</text><text x="683.75" y="872.25" font-size="17" text-anchor="middle" fill="#111" >Not  feasible or failure</text><text x="683.75" y="987.00" font-size="17" text-anchor="middle" font-weight="700" fill="#111" >TACE</text><text x="514.50" y="1008.75" font-size="17" text-anchor="start" fill="#111" ><tspan font-weight="700">Radioembolization</tspan><tspan font-size="14.2"> (only  for single lesion ≤8 cm)</tspan></text><text x="406.50" y="1105.75" font-size="14.2" text-anchor="start" fill="#111" >*Except for  those with tumor burden acceptable for transplant</text><text x="406.50" y="1129.50" font-size="14.2" text-anchor="start" fill="#111" >^Resection may be considered for single peripheral HCC with</text><text x="406.50" y="1147.10" font-size="14.2" text-anchor="start" fill="#111" >adequate remnant liver volume</text><text x="1017.00" y="862.00" font-size="17" text-anchor="middle" font-weight="700" fill="#111" >Successful</text><text x="1017.00" y="885.00" font-size="17" text-anchor="middle" font-weight="700" fill="#111" >downstaging</text><text x="1101.25" y="968.25" font-size="17" text-anchor="middle" fill="#111" >Not</text><text x="1101.25" y="985.85" font-size="17" text-anchor="middle" fill="#111" >feasible</text><text x="1101.25" y="1003.45" font-size="17" text-anchor="middle" fill="#111" >or</text><text x="1101.25" y="1021.05" font-size="17" text-anchor="middle" fill="#111" >failure</text><text x="1174.25" y="862.70" font-size="17" text-anchor="start" fill="#111" >1<tspan font-size="8.6" dy="-7">st</tspan><tspan dy="7" dx="-0.6"> Line</tspan></text><text x="1174.25" y="943.20" font-size="17" text-anchor="start" fill="#111" >2<tspan font-size="8.6" dy="-7">nd</tspan><tspan dy="7" dx="-0.6"> Line</tspan></text><text x="1174.25" y="1107.70" font-size="17" text-anchor="start" fill="#111" >3<tspan font-size="8.6" dy="-7">rd</tspan><tspan dy="7" dx="-0.6"> Line</tspan></text><text x="1216.25" y="879.45" font-size="17" text-anchor="start" font-weight="700" fill="#111" >Atezolizumab-Bevacizumab/Durvalumab-Tremelimumab</text><text x="1232.50" y="899.70" font-size="17" text-anchor="start" fill="#111" >If not feasible <tspan font-weight="700">Sorafenib or Lenvatinib or Durvalumab</tspan></text><text x="1331.25" y="943.20" font-size="17" text-anchor="start" font-weight="700" fill="#111" >Regorafenib</text><text x="1331.25" y="960.20" font-size="13.5" text-anchor="start" fill="#111" >(sorafenib-tolerant)</text><text x="1331.25" y="979.45" font-size="17" text-anchor="start" font-weight="700" fill="#111" >Cabozantinib</text><text x="1331.25" y="1000.20" font-size="17" text-anchor="start" font-weight="700" fill="#111" >Ramucirumab</text><text x="1331.25" y="1016.45" font-size="13.5" text-anchor="start" fill="#111" >(AFP ≥400 ng/ml)</text><text x="1198.00" y="980.95" font-size="17" text-anchor="start" fill="#111" >- Post sorafenib</text><text x="1198.00" y="1036.45" font-size="17" text-anchor="start" fill="#111" >- Post atezolizumab-bevacizumab</text><text x="1198.00" y="1056.95" font-size="17" text-anchor="start" fill="#111" >- Post durvalumab-tremelimumab</text><text x="1198.00" y="1078.45" font-size="17" text-anchor="start" fill="#111" >- Post lenvatinib or Durvalumab</text><text x="1228.00" y="1131.45" font-size="17" text-anchor="start" font-weight="700" fill="#111" >Cabozantinib</text><text x="1591.75" y="1035.20" font-size="17" text-anchor="middle" font-weight="700" fill="#111" >Clinical</text><text x="1591.75" y="1055.40" font-size="17" text-anchor="middle" font-weight="700" fill="#111" >trials</text><text transform="translate(1500.80 978.00) rotate(-90)" font-size="15.2" text-anchor="middle" fill="#111">Not</text><text transform="translate(1514.60 978.00) rotate(-90)" font-size="15.2" text-anchor="middle" fill="#111">feasible</text><text transform="translate(1500.30 1121.50) rotate(-90)" font-size="15.2" text-anchor="middle" fill="#111">Not</text><text transform="translate(1514.10 1121.50) rotate(-90)" font-size="15.2" text-anchor="middle" fill="#111">feasible</text><text transform="translate(1672.20 1040.00) rotate(-90)" font-size="15.3" text-anchor="middle" fill="#111">Not feasible</text><text x="1767.25" y="1081.65" font-size="14.2" text-anchor="middle" fill="#111" >Alternative</text><text x="1767.25" y="1097.25" font-size="14.2" text-anchor="middle" fill="#111" >sequences may</text><text x="1767.25" y="1112.85" font-size="14.2" text-anchor="middle" fill="#111" >be considered</text><text x="1767.25" y="1128.45" font-size="14.2" text-anchor="middle" fill="#111" >but they have not</text><text x="1767.25" y="1144.05" font-size="14.2" text-anchor="middle" fill="#111" >been proved</text></g>
</svg>
<div id="caption"><div class="cl" style="top:1186.70px;word-spacing:0.089px;"><span><b>Fig. 1.&nbsp;&nbsp;BCLC staging and treatment strategy in 2022.</b> The BCLC system establishes a prognosis in accordance with the 5 stages that are linked to first-line treatment recommendation. The expected outcome is</span></div><div class="cl" style="top:1212.15px;word-spacing:1.327px;"><span>expressed as median survival of each tumour stage according to the available scientific evidence. Individualised clinical decision-making, according to the available data on November 15, 2021, is defined by</span></div><div class="cl" style="top:1237.60px;word-spacing:0.385px;"><span>teams responsible for integrating all available data with the individual patient’s medical profile. Note that liver function should be evaluated beyond the conventional Child-Pugh staging. AFP, alpha-fetoprotein;</span></div><div class="cl" style="top:1263.05px;word-spacing:-0.248px;"><span>ALBI, albumin-bilirubin; BCLC, Barcelona Clinic Liver Cancer; BSC, best supportive care; ECOG-PS, Eastern Cooperative Oncology Group-performance status; LT, liver transplantation; MELD, model of end-stage</span></div><div class="cl" style="top:1288.50px;word-spacing:0.305px;"><span>liver disease; TACE, transarterial chemoembolisation.</span></div></div>
</body></html>
